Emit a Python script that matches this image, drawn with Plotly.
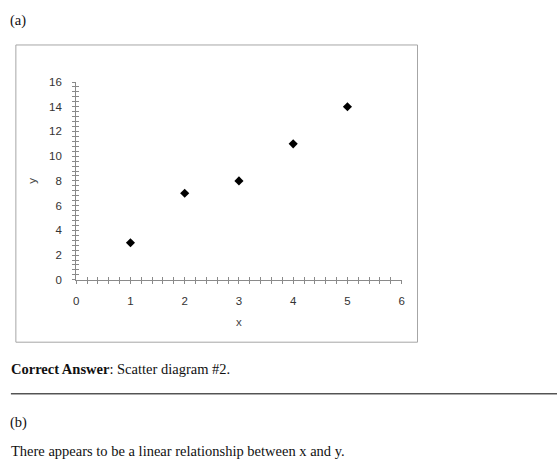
import plotly.graph_objects as go

# Data
x_vals = [1, 2, 3, 4, 5]
y_vals = [3, 7, 8, 11, 14]
x_ticks = [0, 1, 2, 3, 4, 5, 6]
y_ticks = [0, 2, 4, 6, 8, 10, 12, 14, 16]

W, H = 560, 470
def px(x):
    return x / W
def py(y):
    return 1 - y / H

AX = "#8a8a8a"
TICKFONT = dict(family="Liberation Sans, Arial", size=11.5, color="#333333")
SERIF = "Liberation Serif, Times New Roman, serif"

fig = go.Figure()
fig.add_trace(go.Scatter(
    x=x_vals, y=y_vals, mode="markers",
    marker=dict(symbol="diamond", size=7, color="black"),
    showlegend=False, hoverinfo="x+y",
))
fig.add_trace(go.Scatter(x=[None], y=[None], xaxis="x2", yaxis="y2",
                         showlegend=False, hoverinfo="skip"))

xdom = [px(74), px(403)]
ydom = [py(281), py(78)]

common_x = dict(range=[0, 6], domain=xdom, showgrid=False, zeroline=False,
                tickvals=x_ticks, tickcolor=AX, ticklen=3, tickwidth=1)
common_y = dict(range=[0, 16], domain=ydom, showgrid=False, zeroline=False,
                tickvals=y_ticks, tickcolor=AX, ticklen=3, tickwidth=1)

fig.update_layout(
    width=W, height=H,
    margin=dict(l=0, r=0, t=0, b=0),
    paper_bgcolor="white", plot_bgcolor="white",
    xaxis=dict(**common_x, anchor="y", showline=True, linecolor=AX, linewidth=1,
               ticks="outside", tickfont=TICKFONT, ticklabelstandoff=7,
               minor=dict(dtick=0.2, tick0=0, ticks="outside", ticklen=3, tickcolor=AX),
               title=dict(text="x", font=dict(family="Liberation Sans, Arial", size=11.5, color="#444"),
                          standoff=12)),
    yaxis=dict(**common_y, anchor="x", showline=True, linecolor=AX, linewidth=1,
               ticks="outside", tickfont=TICKFONT, ticklabelstandoff=8,
               minor=dict(dtick=0.4, tick0=0, ticks="outside", ticklen=3, tickcolor=AX),
               title=dict(text="y", font=dict(family="Liberation Sans, Arial", size=11.5, color="#444"),
                          standoff=10)),
    xaxis2=dict(**common_x, overlaying="x", anchor="y", side="bottom", ticks="inside",
                showticklabels=False, showline=False,
                minor=dict(dtick=0.2, tick0=0, ticks="inside", ticklen=3, tickcolor=AX)),
    yaxis2=dict(**common_y, overlaying="y", anchor="x", side="left", ticks="inside",
                showticklabels=False, showline=False,
                minor=dict(dtick=0.4, tick0=0, ticks="inside", ticklen=3, tickcolor=AX)),
)

# Chart frame
fig.add_shape(type="rect", xref="paper", yref="paper",
              x0=px(13), x1=px(419), y0=py(345), y1=py(40),
              line=dict(color="#a6a6a6", width=1), fillcolor="rgba(0,0,0,0)", layer="below")
# Horizontal rule
fig.add_shape(type="line", xref="paper", yref="paper",
              x0=px(8), x1=px(560), y0=py(398), y1=py(398),
              line=dict(color="black", width=1))

def text(t, x, y, size=14.5):
    fig.add_annotation(text=t, xref="paper", yref="paper", x=px(x), y=py(y),
                       xanchor="left", yanchor="middle", showarrow=False,
                       font=dict(family=SERIF, size=size, color="#111"))

text("(a)", 5, 15)
text("<b>Correct Answer</b>: Scatter diagram #2.", 6, 373)
text("(b)", 5, 427)
text("There appears to be a linear relationship between x and y.", 6, 457)

fig.write_html("out.html")
